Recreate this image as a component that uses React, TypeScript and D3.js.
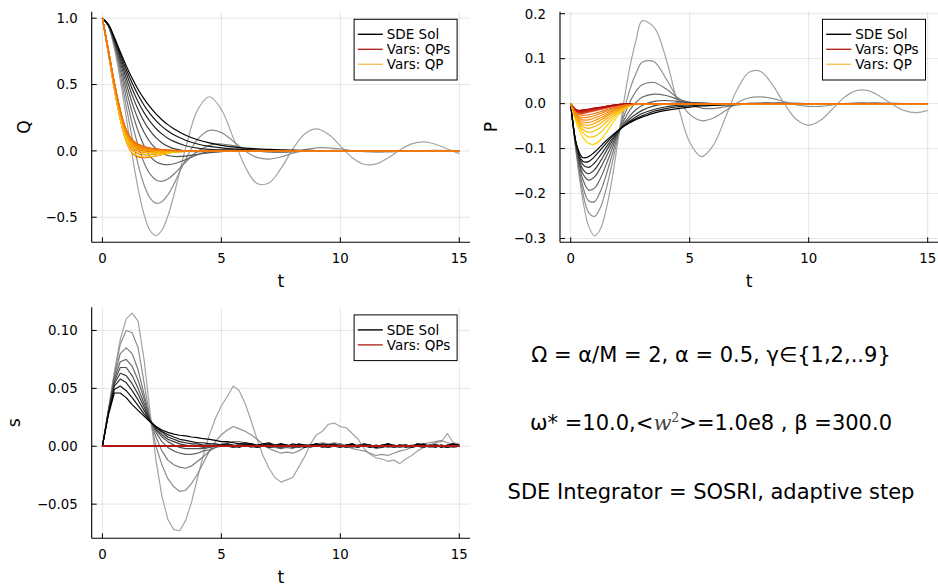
import React from "react";
import * as d3 from "d3";

// ---------- time grids ----------
const T = [0, 0.25, 0.5, 0.75, 1, 1.25, 1.5, 1.75, 2, 2.25, 2.5, 2.75, 3,
  3.5, 4, 4.5, 5, 5.5, 6, 6.5, 7, 7.5, 8, 8.5, 9,
  9.5, 10, 10.5, 11, 11.5, 12, 12.5, 13, 13.5, 14, 14.5, 15];
const T_VARS = [0, 0.25, 0.5, 0.75, 1, 1.25, 1.5, 1.75, 2, 2.25, 2.5, 2.75, 3, 3.5, 4, 5, 15];
const TS = [0, 0.25, 0.5, 0.75, 1, 1.25, 1.5, 1.75, 2, 2.25, 2.5, 2.75, 3, 3.25, 3.5, 3.75, 4, 4.25, 4.5, 4.75,
  5, 5.25, 5.5, 5.75, 6, 6.25, 6.5, 6.75, 7, 7.25, 7.5, 7.75, 8, 8.25, 8.5, 8.75, 9, 9.25, 9.5, 9.75,
  10, 10.25, 10.5, 10.75, 11, 11.25, 11.5, 11.75, 12, 12.25, 12.5, 12.75, 13, 13.25, 13.5, 13.75, 14, 14.25, 14.5, 14.75, 15];
const T_ENDS = [0, 15];

const GAMMAS = [1, 2, 3, 4, 5, 6, 7, 8, 9];

// ---------- SDE solution: Q (one row per gamma) ----------
const Q_SDE = [
  [1, .940, .775, .535, .254, -.029, -.283, -.479, -.600, -.638, -.598, -.492, -.337,
    .023, .308, .408, .312, .098, -.120, -.246, -.242, -.134, .013, .127, .166,
    .125, .038, -.051, -.101, -.098, -.053, .007, .053, .068, .050, .014, -.021],
  [1, .942, .789, .576, .336, .102, -.101, -.256, -.354, -.394, -.383, -.331, -.252,
    -.064, .087, .154, .138, .073, .000, -.049, -.062, -.046, -.018, .009, .023,
    .023, .015, .003, -.006, -.010, -.008, -.004, .000, .003, .004, .003, .001],
  [1, .944, .802, .610, .403, .207, .040, -.090, -.174, -.219, -.229, -.212, -.176,
    -.084, -.003, .042, .052, .039, .017, -.001, -.010, -.012, -.008, -.004, .001,
    .003, .003, .002, .001, 0, 0, 0, 0, 0, 0, 0, 0],
  [1, .946, .813, .641, .460, .292, .150, .039, -.039, -.082, -.100, -.104, -.097,
    -.066, -.029, -.003, .010, .012, .009, .005, .001, -.001, -.001, -.001, 0,
    0, 0, 0, 0, 0, 0, 0, 0, 0, 0, 0, 0],
  [1, .947, .823, .668, .508, .362, .238, .140, .067, .016, -.017, -.035, -.042,
    -.039, -.026, -.013, -.005, .000, .002, .002, .001, 0, 0, 0, 0,
    0, 0, 0, 0, 0, 0, 0, 0, 0, 0, 0, 0],
  [1, .949, .833, .691, .549, .420, .311, .221, .152, .100, .062, .035, .017,
    -.001, -.006, -.006, -.004, -.003, -.001, 0, 0, 0, 0, 0, 0,
    0, 0, 0, 0, 0, 0, 0, 0, 0, 0, 0, 0],
  [1, .950, .841, .712, .585, .469, .370, .288, .222, .169, .128, .096, .072,
    .039, .021, .011, .006, .003, .002, .001, 0, 0, 0, 0, 0,
    0, 0, 0, 0, 0, 0, 0, 0, 0, 0, 0, 0],
  [1, .952, .849, .731, .615, .511, .421, .344, .281, .228, .185, .150, .121,
    .080, .052, .034, .022, .015, .010, .006, .004, .003, .002, .001, .001,
    0, 0, 0, 0, 0, 0, 0, 0, 0, 0, 0, 0],
  [1, .953, .856, .747, .642, .547, .463, .392, .331, .279, .235, .198, .167,
    .118, .084, .060, .042, .030, .021, .015, .011, .008, .005, .004, .003,
    .002, .001, .001, .001, 0, 0, 0, 0, 0, 0, 0, 0],
];

// ---------- SDE solution: P ----------
const P_SDE = [
  [0, -.118, -.212, -.272, -.294, -.279, -.233, -.164, -.078, .010, .085, .142, .184,
    .170, .101, -.002, -.086, -.118, -.092, -.031, .032, .070, .071, .040, -.002,
    -.036, -.048, -.037, -.012, .014, .029, .029, .016, -.001, -.015, -.020, -.015],
  [0, -.114, -.196, -.242, -.251, -.231, -.188, -.131, -.070, -.013, .034, .068, .092,
    .093, .056, .011, -.024, -.038, -.032, -.016, .002, .013, .015, .011, .004,
    -.003, -.006, -.006, -.003, .000, .002, .002, .002, .001, .000, -.001, -.001],
  [0, -.110, -.182, -.216, -.218, -.195, -.157, -.112, -.067, -.026, .005, .028, .042,
    .047, .033, .013, -.002, -.010, -.011, -.007, -.003, .001, .002, .002, .002,
    .001, 0, 0, 0, 0, 0, 0, 0, 0, 0, 0, 0],
  [0, -.105, -.167, -.192, -.188, -.166, -.134, -.099, -.065, -.036, -.013, .003, .014,
    .021, .018, .010, .003, -.001, -.002, -.002, -.002, -.001, 0, 0, 0,
    0, 0, 0, 0, 0, 0, 0, 0, 0, 0, 0, 0],
  [0, -.102, -.155, -.170, -.163, -.143, -.117, -.090, -.064, -.043, -.026, -.013, -.004,
    .005, .007, .005, .003, .001, .000, 0, 0, 0, 0, 0, 0,
    0, 0, 0, 0, 0, 0, 0, 0, 0, 0, 0, 0],
  [0, -.099, -.145, -.156, -.147, -.128, -.105, -.083, -.063, -.047, -.033, -.023, -.015,
    -.005, -.001, .001, .001, .001, 0, 0, 0, 0, 0, 0, 0,
    0, 0, 0, 0, 0, 0, 0, 0, 0, 0, 0, 0],
  [0, -.096, -.135, -.142, -.132, -.115, -.096, -.078, -.062, -.049, -.038, -.029, -.022,
    -.013, -.007, -.004, -.002, -.001, -.001, 0, 0, 0, 0, 0, 0,
    0, 0, 0, 0, 0, 0, 0, 0, 0, 0, 0, 0],
  [0, -.094, -.128, -.129, -.118, -.103, -.088, -.073, -.060, -.049, -.040, -.033, -.027,
    -.017, -.011, -.007, -.005, -.003, -.002, -.001, -.001, -.001, 0, 0, 0,
    0, 0, 0, 0, 0, 0, 0, 0, 0, 0, 0, 0],
  [0, -.092, -.120, -.118, -.108, -.095, -.082, -.070, -.059, -.050, -.042, -.035, -.030,
    -.021, -.015, -.011, -.008, -.005, -.004, -.003, -.002, -.001, -.001, -.001, 0,
    0, 0, 0, 0, 0, 0, 0, 0, 0, 0, 0, 0],
];

// ---------- SDE solution: s (on TS) ----------
const S_SDE = [
  [0, .031, .064, .092, .110, .115, .108, .075, .030, -.012, -.043, -.063, -.072, -.073, -.064, -.048, -.027, -.007, .010, .024,
    .035, .043, .052, .048, .037, .022, .006, -.008, -.019, -.027, -.031, -.029, -.027, -.018, -.009, .002, .010, .013, .019, .020,
    .017, .016, .011, .006, -.002, -.007, -.010, -.011, -.013, -.012, -.015, -.011, -.008, -.004, -.001, .001, .003, .004, .011, .003, .002],
  [0, .031, .062, .088, .100, .098, .085, .055, .024, .000, -.016, -.028, -.035, -.039, -.038, -.032, -.024, -.014, -.004, .004,
    .010, .014, .017, .015, .013, .010, .006, .002, -.002, -.004, -.006, -.005, -.006, -.004, -.001, .001, .002, .003, .002, .003,
    .002, .000, -.002, -.003, -.004, -.006, -.008, -.007, -.008, -.006, -.004, -.003, -.001, .001, .002, .003, .004, .005, .003, .002, .001],
  [0, .030, .060, .080, .085, .080, .066, .045, .024, .008, -.004, -.012, -.016, -.018, -.019, -.017, -.013, -.009, -.004, -.001,
    .002, .003, .004, .004, .003, .002, .001, .000, -.001, -.001, -.002, -.001, -.002, .000, .001, .000, .001, .002, .001, .000,
    .001, -.001, .000, -.001, .001, .000, -.002, -.001, .000, -.001, .001, .000, -.001, .001, .000, .001, .002, .000, .001, -.001, .000],
  [0, .030, .058, .073, .075, .069, .057, .041, .023, .012, .004, -.001, -.004, -.006, -.007, -.007, -.006, -.004, -.003, -.001,
    .000, .001, .000, .002, .001, -.001, .000, .001, -.001, .000, .001, -.001, .000, .001, .000, -.001, .001, .000, -.001, .000,
    .002, .000, -.001, .001, .000, -.001, .000, .001, -.001, .000, .001, .000, -.001, .000, .001, -.001, .000, .001, .000, -.001, .000],
  [0, .030, .056, .068, .068, .061, .050, .037, .023, .014, .008, .004, .001, -.001, -.002, -.002, -.002, -.002, -.001, .000,
    .001, .000, -.001, .001, .002, .000, -.001, .000, .001, .000, -.002, .000, .001, .001, -.001, .000, .000, .001, -.001, .001,
    .000, -.001, .001, .000, .000, .001, -.001, .000, .002, .000, -.001, .000, .001, .000, -.001, .001, .000, .001, -.001, .000, .001],
  [0, .029, .054, .063, .061, .054, .045, .034, .022, .015, .010, .006, .004, .002, .001, .000, .000, -.001, .000, .001,
    .000, .001, -.001, .000, .001, .001, -.001, .000, .002, .000, -.001, .001, .000, -.001, .000, .001, .001, -.001, .000, .000,
    .001, -.001, .000, .001, .002, .000, -.001, .000, .001, -.001, .000, .001, .000, .000, -.001, .001, .001, .000, -.001, .001, .000],
  [0, .029, .052, .058, .055, .048, .040, .031, .022, .016, .012, .008, .006, .004, .003, .002, .002, .001, .001, .000,
    .001, .002, .000, -.001, .001, .002, .000, .001, -.001, .000, .002, .001, -.001, .000, .001, .000, .002, .000, -.001, .001,
    .000, .001, .000, -.001, .002, .001, .000, -.001, .001, .000, .001, -.001, .000, .002, .001, .000, -.001, .001, .000, .002, .000],
  [0, .028, .049, .052, .048, .042, .035, .028, .022, .017, .013, .010, .008, .006, .005, .004, .003, .003, .002, .002,
    .001, .002, .001, .000, .002, .001, -.001, .001, .002, .000, .001, .000, .002, .001, -.001, .001, .000, .002, .001, .000,
    -.001, .001, .002, .000, .001, -.001, .001, .000, .002, .001, .000, .001, -.001, .001, .002, .000, .001, .000, -.001, .001, .000],
  [0, .027, .046, .046, .042, .036, .031, .026, .021, .017, .014, .012, .0105, .0095, .009, .008, .0075, .0065, .006, .005,
    .004, .004, .003, .002, .003, .002, .001, .002, .003, .001, .002, .001, .000, .002, .001, .001, .002, .000, .001, .002,
    .000, .001, .002, .000, .001, .001, -.001, .001, .002, .000, .001, .001, .000, .002, .001, .000, .001, -.001, .001, .002, .001],
];

// ---------- Variational: QP ----------
const Q_QP = [
  [1, .74, .47, .24, .075, -.012, -.038, -.046, -.044, -.037, -.028, -.019, -.011, -.003, 0, 0, 0],
  [1, .745, .48, .255, .095, .015, -.015, -.025, -.026, -.022, -.017, -.012, -.007, -.002, 0, 0, 0],
  [1, .75, .49, .265, .11, .035, .003, -.009, -.012, -.011, -.009, -.006, -.004, -.001, 0, 0, 0],
  [1, .752, .495, .275, .12, .048, .016, .003, -.002, -.003, -.003, -.002, -.001, 0, 0, 0, 0],
  [1, .755, .50, .285, .13, .058, .026, .012, .005, .002, .000, -.001, -.001, 0, 0, 0, 0],
  [1, .757, .505, .29, .14, .066, .034, .019, .011, .006, .003, .001, .000, 0, 0, 0, 0],
  [1, .76, .51, .30, .148, .074, .040, .024, .015, .009, .005, .003, .001, 0, 0, 0, 0],
  [1, .762, .515, .305, .155, .080, .046, .029, .019, .012, .008, .005, .003, .001, 0, 0, 0],
  [1, .765, .52, .31, .162, .086, .051, .033, .022, .015, .010, .007, .004, .001, 0, 0, 0],
];
const P_QP = [
  [0, -.045, -.074, -.088, -.090, -.081, -.064, -.044, -.026, -.013, -.005, -.001, 0, 0, 0, 0, 0],
  [0, -.040, -.064, -.074, -.073, -.064, -.050, -.035, -.021, -.011, -.004, -.001, 0, 0, 0, 0, 0],
  [0, -.037, -.057, -.064, -.061, -.053, -.041, -.029, -.018, -.009, -.004, -.001, 0, 0, 0, 0, 0],
  [0, -.034, -.051, -.055, -.051, -.044, -.034, -.024, -.015, -.008, -.003, -.001, 0, 0, 0, 0, 0],
  [0, -.031, -.046, -.048, -.044, -.037, -.029, -.020, -.013, -.007, -.003, -.001, 0, 0, 0, 0, 0],
  [0, -.029, -.041, -.042, -.038, -.032, -.025, -.017, -.011, -.006, -.003, -.001, 0, 0, 0, 0, 0],
  [0, -.026, -.036, -.036, -.032, -.027, -.021, -.015, -.009, -.005, -.002, -.001, 0, 0, 0, 0, 0],
  [0, -.024, -.031, -.030, -.027, -.022, -.017, -.012, -.008, -.004, -.002, -.001, 0, 0, 0, 0, 0],
  [0, -.021, -.026, -.025, -.022, -.018, -.014, -.010, -.006, -.003, -.002, -.001, 0, 0, 0, 0, 0],
];

// ---------- Variational: QPs ----------
const Q_QPS = [
  [1, .735, .465, .235, .07, -.018, -.045, -.051, -.047, -.038, -.028, -.018, -.010, -.003, 0, 0, 0],
  [1, .74, .475, .25, .09, .010, -.02, -.029, -.028, -.023, -.017, -.011, -.006, -.002, 0, 0, 0],
  [1, .745, .485, .26, .105, .030, -.001, -.012, -.014, -.012, -.009, -.006, -.003, -.001, 0, 0, 0],
  [1, .748, .49, .27, .115, .043, .012, .000, -.004, -.004, -.003, -.002, -.001, 0, 0, 0, 0],
  [1, .75, .495, .28, .125, .053, .022, .009, .003, .001, .000, -.001, -.001, 0, 0, 0, 0],
  [1, .752, .50, .285, .135, .061, .030, .016, .009, .005, .002, .001, .000, 0, 0, 0, 0],
  [1, .755, .505, .295, .143, .069, .036, .021, .013, .008, .004, .002, .001, 0, 0, 0, 0],
  [1, .757, .51, .30, .150, .075, .042, .026, .017, .011, .007, .004, .002, .001, 0, 0, 0],
  [1, .76, .515, .305, .157, .081, .047, .030, .020, .013, .009, .006, .003, .001, 0, 0, 0],
];
const P_QPS = [
  [0, -.021, -.022, -.019, -.016, -.013, -.010, -.007, -.004, -.002, -.001, 0, 0, 0, 0, 0, 0],
  [0, -.020, -.021, -.018, -.015, -.012, -.009, -.006, -.004, -.002, -.001, 0, 0, 0, 0, 0, 0],
  [0, -.019, -.020, -.017, -.014, -.011, -.008, -.006, -.003, -.002, -.001, 0, 0, 0, 0, 0, 0],
  [0, -.018, -.019, -.016, -.013, -.010, -.008, -.005, -.003, -.002, -.001, 0, 0, 0, 0, 0, 0],
  [0, -.017, -.018, -.015, -.012, -.010, -.007, -.005, -.003, -.001, -.001, 0, 0, 0, 0, 0, 0],
  [0, -.016, -.017, -.014, -.012, -.009, -.007, -.004, -.003, -.001, 0, 0, 0, 0, 0, 0, 0],
  [0, -.016, -.016, -.013, -.011, -.009, -.006, -.004, -.002, -.001, 0, 0, 0, 0, 0, 0, 0],
  [0, -.015, -.015, -.013, -.010, -.008, -.006, -.004, -.002, -.001, 0, 0, 0, 0, 0, 0, 0],
  [0, -.014, -.014, -.012, -.010, -.008, -.006, -.004, -.002, -.001, 0, 0, 0, 0, 0, 0, 0],
];
const S_QPS = [[0, 0], [0, 0], [0, 0], [0, 0], [0, 0], [0, 0], [0, 0], [0, 0], [0, 0]];

// ---------- axes ----------
const X_TICKS = [0, 5, 10, 15];
const Q_TICKS = [-0.5, 0, 0.5, 1];
const Q_TICK_LABELS = ["\u22120.5", "0.0", "0.5", "1.0"];
const P_TICKS = [-0.3, -0.2, -0.1, 0, 0.1, 0.2];
const P_TICK_LABELS = ["\u22120.3", "\u22120.2", "\u22120.1", "0.0", "0.1", "0.2"];
const S_TICKS = [-0.05, 0, 0.05, 0.1];
const S_TICK_LABELS = ["\u22120.05", "0.00", "0.05", "0.10"];
const LEGEND_LABELS = ["SDE Sol", "Vars: QPs", "Vars: QP"];

const FONT = "DejaVu Sans, Noto Sans, sans-serif";
const sdeColor = (k: number) => d3.interpolateRgb("#a3a3a3", "#000000")(k / 8);
const qpColor = (k: number) => d3.interpolateRgb("#ffd200", "#f07010")(k / 8);
const qpsColor = (k: number) => d3.interpolateRgb("#e84a1c", "#b01010")(k / 8);
const LEGEND_COLORS = ["#000000", "#b22b22", "#f4c35a"];

type Series = { times: number[]; values: number[]; color: string; width: number; smooth: boolean };

type PanelProps = {
  id: string;
  left: number; right: number; top: number; bottom: number;
  yDomain: [number, number];
  yTicks: number[]; yTickLabels: string[];
  yLabel: string; yLabelX: number;
  series: Series[];
  legendCount: number;
};

function Panel(p: PanelProps) {
  const xs = d3.scaleLinear().domain([-0.45, 15.45]).range([p.left, p.right]);
  const ys = d3.scaleLinear().domain(p.yDomain).range([p.bottom, p.top]);
  const cx = (p.left + p.right) / 2;
  const cy = (p.top + p.bottom) / 2;
  const lgRight = p.right - 12.9;
  const lgW = 103;
  const lgX = lgRight - lgW;
  const lgY = p.top + 7.6;
  const rowH = 15;
  const lgH = p.legendCount * rowH + 15.7;
  return (
    <g>
      <defs>
        <clipPath id={p.id}>
          <rect x={p.left} y={p.top} width={p.right - p.left} height={p.bottom - p.top} />
        </clipPath>
      </defs>
      {X_TICKS.map((t) => (
        <line key={"gx" + t} x1={xs(t)} x2={xs(t)} y1={p.top} y2={p.bottom} stroke="#000" strokeOpacity={0.1} strokeWidth={1} />
      ))}
      {p.yTicks.map((v) => (
        <line key={"gy" + v} x1={p.left} x2={p.right} y1={ys(v)} y2={ys(v)} stroke="#000" strokeOpacity={0.1} strokeWidth={1} />
      ))}
      <g clipPath={`url(#${p.id})`}>
        {p.series.map((s, i) => {
          const line = d3.line<number>()
            .x((_, j) => xs(s.times[j]))
            .y((v) => ys(v))
            .curve(s.smooth ? d3.curveCatmullRom.alpha(0.5) : d3.curveLinear);
          return <path key={i} d={line(s.values) || ""} fill="none" stroke={s.color} strokeWidth={s.width} strokeLinejoin="round" />;
        })}
      </g>
      <line x1={p.left} x2={p.left} y1={p.top} y2={p.bottom} stroke="#000" strokeWidth={1.1} />
      <line x1={p.left} x2={p.right} y1={p.bottom} y2={p.bottom} stroke="#000" strokeWidth={1.1} />
      {X_TICKS.map((t) => (
        <g key={"xt" + t}>
          <line x1={xs(t)} x2={xs(t)} y1={p.bottom} y2={p.bottom - 5} stroke="#000" strokeWidth={1} />
          <text x={xs(t)} y={p.bottom + 21} textAnchor="middle" fontSize={13.3} fontFamily={FONT} fill="#000">{t}</text>
        </g>
      ))}
      {p.yTicks.map((v, i) => (
        <g key={"yt" + v}>
          <line x1={p.left} x2={p.left + 5} y1={ys(v)} y2={ys(v)} stroke="#000" strokeWidth={1} />
          <text x={p.left - 14} y={ys(v)} dy="0.36em" textAnchor="end" fontSize={13.3} fontFamily={FONT} fill="#000">{p.yTickLabels[i]}</text>
        </g>
      ))}
      <text x={cx} y={p.bottom + 44.7} textAnchor="middle" fontSize={17.3} fontFamily={FONT} fill="#000">t</text>
      <text transform={`translate(${p.yLabelX},${cy}) rotate(-90)`} textAnchor="middle" fontSize={17.3} fontFamily={FONT} fill="#000">{p.yLabel}</text>
      <rect x={lgX} y={lgY} width={lgW} height={lgH} fill="#fff" stroke="#000" strokeWidth={1} />
      {LEGEND_LABELS.slice(0, p.legendCount).map((lab, i) => {
        const ry = lgY + 15 + i * rowH;
        return (
          <g key={lab}>
            <line x1={lgX + 3.7} x2={lgX + 28.7} y1={ry} y2={ry} stroke={LEGEND_COLORS[i]} strokeWidth={1.4} />
            <text x={lgX + 32.7} y={ry} dy="0.36em" fontSize={13.5} fontFamily={FONT} fill="#000">{lab}</text>
          </g>
        );
      })}
    </g>
  );
}

export default function App() {
  const qSeries: Series[] = [
    ...GAMMAS.map((_, k) => ({ times: T, values: Q_SDE[k], color: sdeColor(k), width: 1.2, smooth: true })),
    ...GAMMAS.map((_, k) => ({ times: T_VARS, values: Q_QPS[k], color: qpsColor(k), width: 1.2, smooth: true })),
    ...GAMMAS.map((_, k) => ({ times: T_VARS, values: Q_QP[k], color: qpColor(k), width: 1.2, smooth: true })),
  ];
  const pSeries: Series[] = [
    ...GAMMAS.map((_, k) => ({ times: T, values: P_SDE[k], color: sdeColor(k), width: 1.2, smooth: true })),
    ...GAMMAS.map((_, k) => ({ times: T_VARS, values: P_QPS[k], color: qpsColor(k), width: 1.2, smooth: true })),
    ...GAMMAS.map((_, k) => ({ times: T_VARS, values: P_QP[k], color: qpColor(k), width: 1.2, smooth: true })),
  ];
  const sSeries: Series[] = [
    ...GAMMAS.map((_, k) => ({ times: TS, values: S_SDE[k], color: sdeColor(k), width: 1.2, smooth: false })),
    ...GAMMAS.map((_, k) => ({ times: T_ENDS, values: S_QPS[k], color: "#b01818", width: 1.4, smooth: false })),
  ];

  return (
    <div style={{ position: "absolute", left: 0, top: 0, width: 938, height: 586, background: "#fff" }}>
      <svg width={938} height={586} style={{ display: "block" }} fontFamily={FONT}>
        <rect x={0} y={0} width={938} height={586} fill="#fff" />
        <Panel id="clipQ" left={91.7} right={470} top={11.7} bottom={242.3} yDomain={[-0.689, 1.049]}
          yTicks={Q_TICKS} yTickLabels={Q_TICK_LABELS} yLabel="Q" yLabelX={29.5} series={qSeries} legendCount={3} />
        <Panel id="clipP" left={560} right={938.4} top={11.7} bottom={242.3} yDomain={[-0.3085, 0.2045]}
          yTicks={P_TICKS} yTickLabels={P_TICK_LABELS} yLabel="P" yLabelX={496.5} series={pSeries} legendCount={3} />
        <Panel id="clipS" left={91.7} right={470} top={307.3} bottom={538.3} yDomain={[-0.0795, 0.12]}
          yTicks={S_TICKS} yTickLabels={S_TICK_LABELS} yLabel="s" yLabelX={20} series={sSeries} legendCount={2} />
        <g fontSize={21} fill="#000" textAnchor="middle">
          <text x={711} y={361.5}>Ω = α/M = 2, α = 0.5, γ∈{"{"}1,2,..9{"}"}</text>
          <text x={711} y={429.5}>
            ω* =10.0,&lt;<tspan fontFamily="DejaVu Serif, serif" fontStyle="italic" fill="#444">w</tspan>
            <tspan fontFamily="DejaVu Serif, serif" fontSize={12.5} dy={-8} fill="#444">2</tspan>
            <tspan dy={8}>&gt;=1.0e8 , β =300.0</tspan>
          </text>
          <text x={711} y={499}>SDE Integrator = SOSRI, adaptive step</text>
        </g>
      </svg>
    </div>
  );
}
